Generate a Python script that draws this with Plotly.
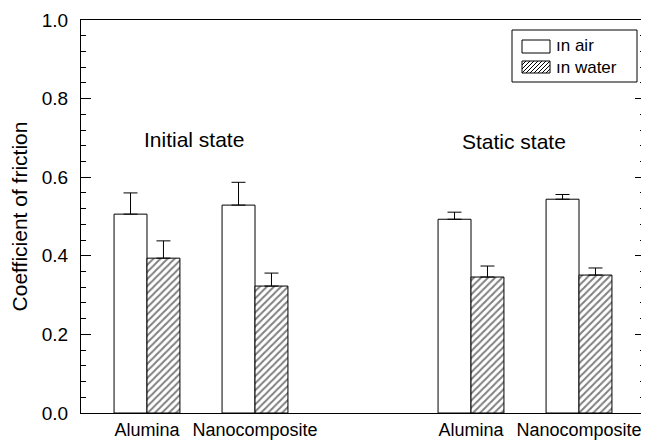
import plotly.graph_objects as go

# data
group_pos = [1, 2, 4, 5]
tick_text = ["Alumina", "Nanocomposite", "Alumina", "Nanocomposite"]
air_vals = [0.506, 0.529, 0.493, 0.544]
air_err = [0.054, 0.058, 0.018, 0.012]
water_vals = [0.394, 0.323, 0.346, 0.351]
water_err = [0.044, 0.033, 0.028, 0.018]
series_names = ["ın air", "ın water"]
state_labels = ["Initial state", "Static state"]
state_x = [1.435, 4.40]
state_y = [0.695, 0.692]

FONT = "Liberation Sans, Arial, sans-serif"
PLOT_W, PLOT_H = 564, 393  # plot-area size in px (for legend placement)

fig = go.Figure()
fig.add_trace(go.Bar(
    x=group_pos, y=air_vals, name=series_names[0], showlegend=False,
    marker=dict(color="white", line=dict(color="black", width=1)),
    error_y=dict(type="data", array=air_err, symmetric=False,
                 arrayminus=[0]*len(air_err), color="black", thickness=1, width=7),
))
fig.add_trace(go.Bar(
    x=group_pos, y=water_vals, name=series_names[1], showlegend=False,
    marker=dict(color="white", line=dict(color="black", width=1),
                pattern=dict(shape="/", fgcolor="black", bgcolor="white",
                             size=5, solidity=0.4)),
    error_y=dict(type="data", array=water_err, symmetric=False,
                 arrayminus=[0]*len(water_err), color="black", thickness=1, width=7),
))
# empty trace so the right-hand tick axis is drawn
fig.add_trace(go.Scatter(x=[], y=[], yaxis="y2", showlegend=False, hoverinfo="skip"))

for t, x, y in zip(state_labels, state_x, state_y):
    fig.add_annotation(x=x, y=y, xref="x", yref="y", text=t, showarrow=False,
                       font=dict(family=FONT, size=21, color="black"))

# ---- hand-drawn legend (paper coords; positions given in px inside plot area) ----
def P(u, v):
    return u / PLOT_W, v / PLOT_H

def rect(u0, v0, u1, v1, **kw):
    x0, y0 = P(u0, v0)
    x1, y1 = P(u1, v1)
    fig.add_shape(type="rect", xref="paper", yref="paper", x0=x0, y0=y0, x1=x1, y1=y1,
                  line=dict(color="black", width=1), **kw)

# legend frame
rect(431, 331, 556, 383, fillcolor="white")
# swatches (u = px from left axis, v = px from bottom axis)
sw_u0, sw_u1 = 441, 469
air_v0, air_v1 = 360, 373
wat_v0, wat_v1 = 340, 352
rect(sw_u0, air_v0, sw_u1, air_v1, fillcolor="white")
rect(sw_u0, wat_v0, sw_u1, wat_v1, fillcolor="white")
# hatch lines for the water swatch
segs = []
step = 4
c = (sw_u0 - wat_v1)
while c < (sw_u1 - wat_v0):
    ua = max(sw_u0, wat_v0 + c)
    ub = min(sw_u1, wat_v1 + c)
    if ub > ua:
        xa, ya = P(ua, ua - c)
        xb, yb = P(ub, ub - c)
        segs.append(f"M{xa:.5f},{ya:.5f}L{xb:.5f},{yb:.5f}")
    c += step
fig.add_shape(type="path", xref="paper", yref="paper", path="".join(segs),
              line=dict(color="black", width=1))
for name, v in zip(series_names, [(air_v0 + air_v1) / 2 + 1, (wat_v0 + wat_v1) / 2]):
    x, y = P(473, v)
    fig.add_annotation(x=x, y=y, xref="paper", yref="paper", text=name, showarrow=False,
                       xanchor="left", yanchor="middle",
                       font=dict(family=FONT, size=17, color="black"))

fig.update_layout(
    width=641, height=435,
    margin=dict(l=73, r=4, t=12, b=30, autoexpand=False),
    paper_bgcolor="white", plot_bgcolor="white",
    barmode="group", bargap=0.39, bargroupgap=0,
    font=dict(family=FONT, color="black"),
    showlegend=False,
    yaxis2=dict(overlaying="y", side="right", range=[0, 1], dtick=0.2,
                ticks="inside", ticklen=10, tickcolor="black", showticklabels=False,
                showline=False, showgrid=False, zeroline=False,
                minor=dict(dtick=0.04, ticks="inside", ticklen=5, tickcolor="black",
                           showgrid=False)),
)
fig.update_xaxes(
    range=[0.389, 5.611], tickmode="array", tickvals=group_pos, ticktext=tick_text,
    ticks="", showline=True, linecolor="black", linewidth=1, mirror=True,
    showgrid=False, zeroline=False, tickfont=dict(family=FONT, size=18, color="black"),
    ticklabelstandoff=0,
)
fig.layout.yaxis.update(
    range=[0, 1], dtick=0.2, tickformat=".1f", ticks="inside", ticklen=10,
    tickcolor="black", showline=True, linecolor="black", linewidth=1, mirror=True,
    showgrid=False, zeroline=False, tickfont=dict(family=FONT, size=19, color="black"),
    minor=dict(dtick=0.04, ticks="inside", ticklen=5, tickcolor="black", showgrid=False),
    title=dict(text="Coefficient of friction", font=dict(family=FONT, size=21, color="black"),
               standoff=10),
    ticklabelstandoff=8,
)

fig.write_html("out.html")
